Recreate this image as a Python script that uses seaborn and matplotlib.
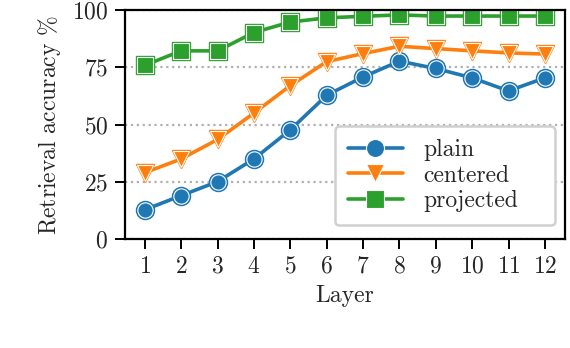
import numpy as np
import pandas as pd
import matplotlib
matplotlib.use("Agg")
import matplotlib.pyplot as plt
import seaborn as sns

sns.set_theme(style="ticks")
plt.rcParams['font.family'] = ['cmr10', 'DejaVu Serif']
plt.rcParams['axes.formatter.use_mathtext'] = True
plt.rcParams['mathtext.fontset'] = 'cm'

layers = list(range(1, 13))
plain = [12.8, 19.0, 25.1, 35.0, 47.7, 62.8, 70.8, 77.7, 74.5, 70.4, 64.7, 70.4]
centered = [29.0, 35.0, 43.5, 55.0, 67.0, 77.5, 81.0, 84.2, 83.2, 82.2, 81.3, 80.8]
projected = [75.9, 82.2, 82.2, 90.2, 94.8, 96.6, 97.3, 97.9, 97.4, 97.4, 97.4, 97.4]
series = ["plain", "centered", "projected"]
markers = ["o", "v", "s"]
colors = sns.color_palette("tab10", 3)

df = pd.DataFrame({"Layer": layers * 3,
                   "acc": plain + centered + projected,
                   "method": np.repeat(series, len(layers))})

fig = plt.figure(figsize=(5.7, 3.48), dpi=100)
ax = fig.add_axes([0.219, 0.313, 0.772, 0.658])

# colored outer ring behind the white-edged markers
for name, m, c in zip(series, markers, colors):
  sub = df[df.method == name]
  ax.plot(sub.Layer, sub.acc, linestyle='none', marker=m, markersize=13,
          color=c, zorder=1)

sns.lineplot(data=df, x="Layer", y="acc", hue="method", style="method",
             markers=dict(zip(series, markers)), dashes=False,
             palette=colors, linewidth=2.6, markersize=11,
             markeredgecolor='white', markeredgewidth=0.8, ax=ax, zorder=2)

ax.set_ylim(0, 100)
ax.set_xlim(0.45, 12.55)
ax.set_xticks(layers)
ax.set_yticks([0, 25, 50, 75, 100])
ax.yaxis.grid(True, linestyle=':', color='#b0b0b0', linewidth=1.6)
ax.xaxis.grid(False)
for s in ax.spines.values():
  s.set_color('black')
  s.set_linewidth(1.6)
ax.tick_params(axis='both', direction='out', length=7, width=1.4,
               color='black', labelsize=17, pad=5)
ax.set_xlabel("Layer", fontsize=17, labelpad=5)
ax.set_ylabel(r"Retrieval accuracy $\%$", fontsize=17, labelpad=6)

handles, labels = ax.get_legend_handles_labels()
for h in handles:
  h.set_markersize(13)
leg = ax.legend(handles, labels, loc='lower left', mode='expand', fontsize=17,
                frameon=True, fancybox=True, framealpha=1.0,
                edgecolor='#d0d0d0', borderpad=0.55, handlelength=2.35,
                handletextpad=0.85, labelspacing=0.15, borderaxespad=0,
                bbox_to_anchor=(0.477, 0.06, 0.5, 0.0))
leg.get_frame().set_linewidth(1.8)

fig.savefig("out.png", dpi=100)
